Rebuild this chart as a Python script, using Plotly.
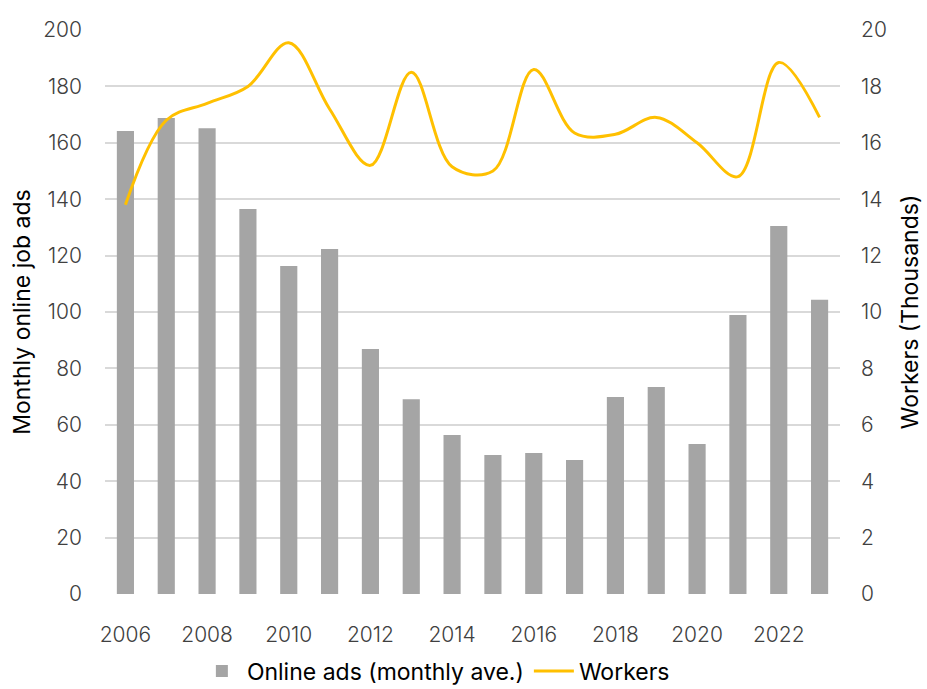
import plotly.graph_objects as go

years = list(range(2006, 2024))
online_ads = [164.2, 168.8, 165.2, 136.5, 116.3, 122.3, 86.9, 69.1, 56.4, 49.3,
              50.0, 47.5, 69.9, 73.4, 53.2, 98.9, 130.5, 104.3]
workers = [13.8, 16.8, 17.4, 18.0, 19.55, 17.2, 15.2, 18.5, 15.15, 15.0,
           18.6, 16.35, 16.3, 16.9, 16.0, 14.8, 18.85, 16.9]
left_ticks = list(range(0, 201, 20))
right_ticks = list(range(0, 21, 2))

FONT = "Inter"
TICK_COLOR = "#404040"

fig = go.Figure()
fig.add_trace(go.Bar(
    x=years, y=online_ads, name="Online ads (monthly ave.)",
    marker=dict(color="#a5a5a5", line=dict(width=0)), width=0.42,
    yaxis="y",
))
fig.add_trace(go.Scatter(
    x=years, y=workers, name="Workers", mode="lines",
    line=dict(color="#ffc000", width=3, shape="spline", smoothing=1),
    yaxis="y2",
))

fig.update_layout(
    width=927, height=689,
    margin=dict(l=105, r=87, t=30, b=95, autoexpand=False),
    paper_bgcolor="white", plot_bgcolor="white",
    font=dict(family=FONT, size=20, color="#000000"),
    showlegend=True,
    legend=dict(orientation="h", x=0.125, xanchor="left",
                yref="container", y=0.026, yanchor="middle",
                font=dict(family=FONT, size=23, color="#000000"),
                itemwidth=40, tracegroupgap=0, traceorder="normal"),
    xaxis=dict(range=[2005.5, 2023.5], tickmode="array",
               tickvals=years[::2], ticktext=[str(y) for y in years[::2]],
               showgrid=False, zeroline=False, showline=False, ticks="",
               automargin=False, ticklabelstandoff=26,
               tickfont=dict(family=FONT, size=21, color=TICK_COLOR, weight=300)),
    yaxis=dict(range=[0, 200], tickmode="array", tickvals=left_ticks,
               showgrid=True, gridcolor="#d9d9d9", gridwidth=1.5,
               zeroline=False, showline=False, ticks="",
               automargin=False, ticklabelstandoff=22,
               tickfont=dict(family=FONT, size=21, color=TICK_COLOR, weight=300),
               title=dict(text="Monthly online job ads",
                          font=dict(family=FONT, size=23, color="#000000"),
                          standoff=6)),
    yaxis2=dict(range=[0, 20], tickmode="array", tickvals=right_ticks,
                overlaying="y", side="right", showgrid=False,
                zeroline=False, showline=False, ticks="",
                automargin=False, ticklabelstandoff=20,
                tickfont=dict(family=FONT, size=21, color=TICK_COLOR, weight=300),
                title=dict(text="Workers (Thousands)",
                           font=dict(family=FONT, size=23, color="#000000"),
                           standoff=16)),
    bargap=0.5,
)

fig.write_html("out.html")
